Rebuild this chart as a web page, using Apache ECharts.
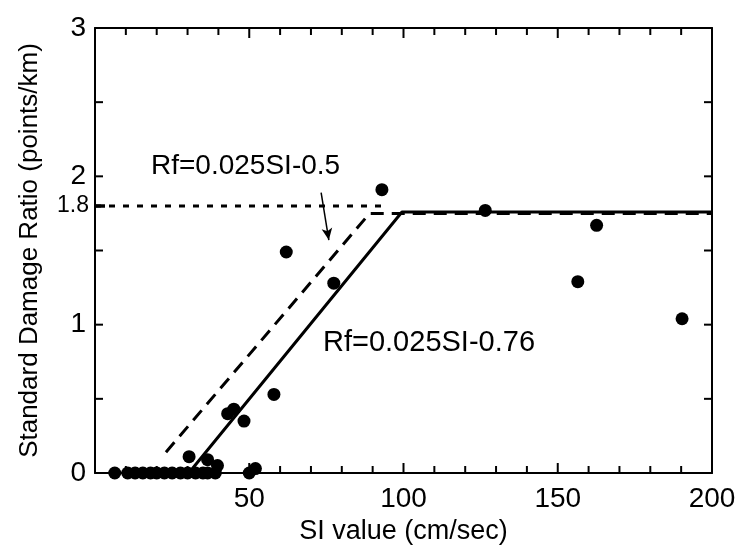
<!DOCTYPE html>
<html>
<head>
<meta charset="utf-8">
<script src="https://cdn.jsdelivr.net/npm/echarts@6/dist/echarts.min.js"></script>
<style>
  html, body { margin: 0; padding: 0; background: #fff; }
  #chart { width: 741px; height: 546px; }
</style>
</head>
<body>
<div id="chart"></div>
<script>
// observed points
const pointSI = [6.4, 10.6, 13, 15.5, 18, 20, 22.5, 25, 27.7, 30, 32.6, 35, 36.5, 39, 30.5, 36.5, 39.7,
  43, 45, 48.3, 50, 52, 58, 62, 77.4, 93, 126.5, 156.5, 162.6, 190.3]
const pointRf = [0, 0, 0, 0, 0, 0, 0, 0, 0, 0, 0, 0, 0, 0, 0.11, 0.09, 0.05,
  0.40, 0.43, 0.35, 0, 0.03, 0.53, 1.49, 1.28, 1.91, 1.77, 1.29, 1.67, 1.04]

// Rf=0.025SI-0.76 (solid)
const solidSI = [30.4, 99.5, 200]
const solidRf = [0, 1.76, 1.76]
// Rf=0.025SI-0.5 (dashed)
const dashedSI = [23, 89, 200]
const dashedRf = [0.14, 1.75, 1.75]
// 1.8 level (dotted)
const dottedSI = [0, 93]
const dottedRf = [1.8, 1.8]
// arrow to the dashed line
const arrowSI = [73.3, 75.8]
const arrowRf = [1.89, 1.57]

const xTicks = [50, 100, 150, 200]
const xMajorTicks = [50, 100, 150]
const xMinorTicks = [10, 20, 30, 40, 60, 70, 80, 90, 110, 120, 130, 140, 160, 170, 180, 190]
const yTicks = [0, 1, 2, 3]
const yAllTicks = [0.5, 1, 1.5, 2, 2.5]
const yMarkTick = [1.8]

const pairs = (xs, ys) => xs.map((x, i) => [x, ys[i]])

const chart = echarts.init(document.getElementById('chart'))
const font = 'Liberation Sans, Arial, sans-serif'

const xMin = 0, xMax = 200, yMin = 0, yMax = 3
const gridW = 741 - 95 - 29
const gridH = 546 - 28 - 73
// pixel length -> data length
const pxX = px => px * (xMax - xMin) / gridW
const pxY = px => px * (yMax - yMin) / gridH

// one short line series per inward tick on the frame
function tickLine(a, b, width) {
  return {
    type: 'line', data: [a, b], symbol: 'none', silent: true, z: 5,
    lineStyle: { color: '#000', width: width, type: 'solid' }
  }
}
function xTickSeries(values, len) {
  const out = []
  values.forEach(v => {
    out.push(tickLine([v, yMin], [v, yMin + pxY(len)], 2))
    out.push(tickLine([v, yMax], [v, yMax - pxY(len)], 2))
  })
  return out
}
function yTickSeries(values, len, both, width) {
  const out = []
  values.forEach(v => {
    out.push(tickLine([xMin, v], [xMin + pxX(len), v], width))
    if (both) out.push(tickLine([xMax, v], [xMax - pxX(len), v], width))
  })
  return out
}

const option = {
  animation: false,
  backgroundColor: '#fff',
  textStyle: { fontFamily: font },
  grid: { left: 95, right: 29, top: 28, bottom: 73, show: false, outerBoundsMode: 'none', containLabel: false },
  xAxis: [
    {
      type: 'value', position: 'bottom', min: xMin, max: xMax, interval: 50,
      splitLine: { show: false },
      axisLine: { onZero: false, lineStyle: { color: '#000', width: 2 } },
      axisTick: { show: false },
      name: 'SI value (cm/sec)',
      nameLocation: 'middle',
      nameGap: 36,
      nameTextStyle: { fontSize: 27, color: '#000', fontFamily: font },
      axisLabel: {
        margin: 12, fontSize: 28, color: '#000', fontFamily: font,
        customValues: xTicks
      }
    },
    {
      type: 'value', position: 'top', min: xMin, max: xMax,
      splitLine: { show: false },
      axisLine: { onZero: false, lineStyle: { color: '#000', width: 2 } },
      axisTick: { show: false }, axisLabel: { show: false }
    }
  ],
  yAxis: [
    {
      type: 'value', position: 'left', min: yMin, max: yMax, interval: 1,
      splitLine: { show: false },
      axisLine: { onZero: false, lineStyle: { color: '#000', width: 2 } },
      axisTick: { show: false },
      name: 'Standard Damage Ratio (points/km)',
      nameLocation: 'middle',
      nameGap: 52,
      nameTextStyle: { fontSize: 26, color: '#000', fontFamily: font },
      axisLabel: {
        margin: 9, fontSize: 28, color: '#000', fontFamily: font,
        customValues: yTicks
      }
    },
    {
      type: 'value', position: 'right', min: yMin, max: yMax,
      splitLine: { show: false },
      axisLine: { onZero: false, lineStyle: { color: '#000', width: 2 } },
      axisTick: { show: false }, axisLabel: { show: false }
    },
    {
      type: 'value', position: 'left', min: yMin, max: yMax,
      splitLine: { show: false },
      axisLine: { show: false, onZero: false },
      axisTick: { show: false },
      axisLabel: { show: true, customValues: yMarkTick, margin: 6, fontSize: 23, color: '#000', fontFamily: 'Liberation Sans' }
    }
  ],
  series: [
    {
      type: 'line', data: pairs(dottedSI, dottedRf), symbol: 'none',
      lineStyle: { color: '#000', width: 3, type: [6, 8] }, z: 2
    },
    {
      type: 'line', data: pairs(dashedSI, dashedRf), symbol: 'none',
      lineStyle: { color: '#000', width: 3, type: [13, 8] }, z: 2
    },
    {
      type: 'line', data: pairs(solidSI, solidRf), symbol: 'none',
      lineStyle: { color: '#000', width: 3 }, z: 3,
      markLine: {
        silent: true,
        symbol: ['none', 'arrow'],
        symbolSize: [8, 12],
        label: { show: false },
        lineStyle: { color: '#000', width: 1.5, type: 'solid' },
        data: [[
          { coord: [arrowSI[0], arrowRf[0]] },
          { coord: [arrowSI[1], arrowRf[1]] }
        ]]
      }
    },
    {
      type: 'scatter', data: pairs(pointSI, pointRf), symbolSize: 13,
      itemStyle: { color: '#000', opacity: 1 }, z: 4
    }
  ].concat(
    xTickSeries(xMajorTicks, 10),
    xTickSeries(xMinorTicks, 7),
    yTickSeries(yAllTicks, 8, true, 2),
    yTickSeries(yMarkTick, 10, false, 3.5)
  ),
  graphic: [
    {
      type: 'text', left: 151, top: 152,
      style: { text: 'Rf=0.025SI-0.5', fontSize: 28, fill: '#000', fontFamily: font }
    },
    {
      type: 'text', left: 323, top: 328,
      style: { text: 'Rf=0.025SI-0.76', fontSize: 29, fill: '#000', fontFamily: font }
    }
  ]
}

chart.setOption(option)
</script>
</body>
</html>
